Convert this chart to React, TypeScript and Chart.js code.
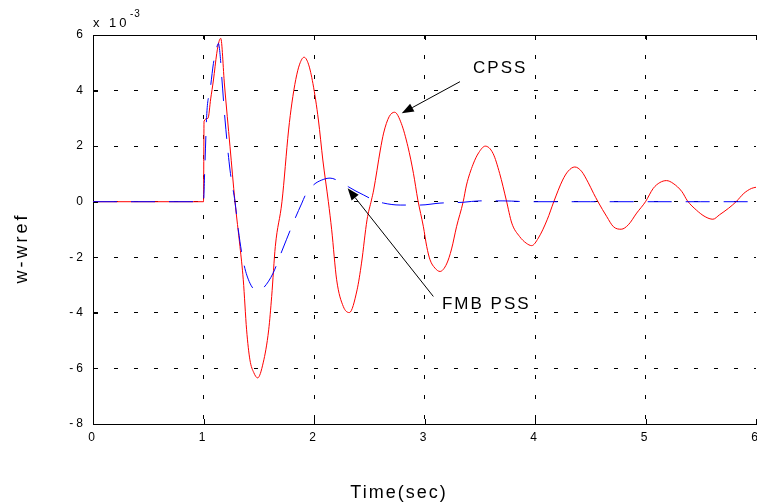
import React, { useEffect, useRef } from "react";
import { Chart, registerables } from "chart.js";

Chart.register(...registerables);

// ---------------- data ----------------
const cpssTime = [
  0, 1.0, 1.005, 1.04, 1.065, 1.09, 1.12, 1.14, 1.156, 1.19, 1.24, 1.285, 1.33, 1.36, 1.39, 1.42, 1.455,
  1.49, 1.54, 1.59, 1.617, 1.65, 1.71, 1.77, 1.8, 1.835, 1.87, 1.91, 1.95, 1.99, 2.04, 2.08, 2.13, 2.16, 2.205,
  2.265, 2.32, 2.39, 2.43, 2.48, 2.52, 2.54, 2.6, 2.63, 2.68, 2.73, 2.79, 2.85, 2.9, 2.94, 2.99,
  3.02, 3.05, 3.095, 3.14, 3.2, 3.245, 3.29, 3.35, 3.38, 3.44, 3.49, 3.55, 3.62, 3.68, 3.74, 3.79,
  3.86, 3.92, 3.97, 4.03, 4.11, 4.17, 4.25, 4.3, 4.36, 4.42, 4.48, 4.53, 4.57, 4.65, 4.71, 4.78,
  4.845, 4.92, 5.0, 5.07, 5.13, 5.19, 5.25, 5.33, 5.38, 5.46, 5.54, 5.61, 5.67, 5.75, 5.82, 5.89,
  5.96, 6.0,
];
const cpssValue = [
  0, 0, 2.9, 3.0, 3.7, 4.38, 5.34, 5.76, 5.88, 4.2, 1.98, 0, -1.61, -2.81, -4.61, -5.69, -6.15,
  -6.34, -5.8, -4.61, -3.41, -1.61, 0, 2.58, 3.55, 4.4, 4.95, 5.2, 4.95, 4.26, 2.94, 1.5, 0, -1.01, -2.81,
  -3.77, -3.99, -3.17, -2.21, -0.65, 0.06, 0.42, 1.86, 2.47, 3.06, 3.22, 2.82, 1.98, 1.02, 0.06, -0.9,
  -1.61, -2.09, -2.39, -2.51, -2.24, -1.7, -0.9, 0, 0.6, 1.35, 1.76, 2.0, 1.74, 1.02, 0.06, -0.77,
  -1.25, -1.49, -1.58, -1.31, -0.65, 0, 0.78, 1.1, 1.25, 1.1, 0.7, 0.3, 0, -0.54, -0.9, -0.99,
  -0.83, -0.41, 0, 0.48, 0.69, 0.76, 0.66, 0.36, 0.03, -0.3, -0.54, -0.63, -0.47, -0.24, 0, 0.3,
  0.48, 0.52,
];

const fmbTime = [
  0, 1.0, 1.01, 1.03, 1.06, 1.09, 1.12, 1.135, 1.15, 1.165, 1.195, 1.24, 1.285, 1.315, 1.36, 1.42,
  1.487, 1.54, 1.63, 1.69, 1.75, 1.83, 1.89, 1.93, 2.0, 2.07, 2.145, 2.235, 2.31, 2.38, 2.45, 2.54,
  2.63, 2.78, 2.96, 3.14, 3.35, 3.5, 3.71, 3.95, 4.5, 5.0, 5.5, 6.0,
];
const fmbValue = [
  0, 0, 1.0, 3.18, 4.02, 4.98, 5.55, 5.7, 5.3, 4.5, 2.94, 1.14, 0, -1.01, -2.15, -2.93,
  -3.21, -3.11, -2.57, -1.97, -1.37, -0.59, -0.05, 0.3, 0.62, 0.78, 0.85, 0.72, 0.54, 0.38, 0.24, 0.06,
  -0.05, -0.12, -0.12, -0.05, -0.02, 0.03, 0.03, 0, 0, 0, 0, 0,
];

const xTickValues = [0, 1, 2, 3, 4, 5, 6];
const yTickValues = [-8, -6, -4, -2, 0, 2, 4, 6];
const xTitle = "Time(sec)";
const yTitle = "w-wref";
const exponentBase = "x 10";
const exponentPower = "-3";

const cpssLabel = "CPSS";
const cpssTextAt = [3.439, 4.62];
const cpssArrowTail = [3.321, 4.32];
const cpssArrowHead = [2.794, 3.18];

const fmbLabel = "FMB PSS";
const fmbTextAt = [3.158, -3.87];
const fmbArrowTail = [3.08, -3.41];
const fmbArrowHead = [2.305, 0.486];

// ---------------- styling ----------------
const FONT = '"Liberation Sans", Arial, Helvetica, sans-serif';

function setSpacing(ctx: any, v: string) {
  try {
    ctx.letterSpacing = v;
  } catch (e) {
    /* ignore */
  }
}

function drawArrow(ctx: CanvasRenderingContext2D, x1: number, y1: number, x2: number, y2: number) {
  ctx.save();
  ctx.strokeStyle = "#000";
  ctx.fillStyle = "#000";
  ctx.lineWidth = 1;
  const ang = Math.atan2(y2 - y1, x2 - x1);
  const len = 12;
  const half = 4.5;
  const bx = x2 - len * Math.cos(ang);
  const by = y2 - len * Math.sin(ang);
  ctx.beginPath();
  ctx.moveTo(x1, y1);
  ctx.lineTo(bx, by);
  ctx.stroke();
  ctx.beginPath();
  ctx.moveTo(x2, y2);
  ctx.lineTo(bx + half * Math.sin(ang), by - half * Math.cos(ang));
  ctx.lineTo(bx - half * Math.sin(ang), by + half * Math.cos(ang));
  ctx.closePath();
  ctx.fill();
  ctx.restore();
}

const decorPlugin = {
  id: "decor",
  beforeDraw(chart: any) {
    const ctx = chart.ctx;
    ctx.save();
    ctx.fillStyle = "#fff";
    ctx.fillRect(0, 0, chart.width, chart.height);
    ctx.restore();
    setSpacing(ctx, "3px");
  },
  afterDatasetsDraw(chart: any) {
    const ctx = chart.ctx as CanvasRenderingContext2D;
    const xs = chart.scales.x;
    const ys = chart.scales.y;
    const px = (p: number[]) => [xs.getPixelForValue(p[0]), ys.getPixelForValue(p[1])];
    setSpacing(ctx, "0px");
    const a1 = px(cpssArrowTail);
    const b1 = px(cpssArrowHead);
    drawArrow(ctx, a1[0], a1[1], b1[0], b1[1]);
    const a2 = px(fmbArrowTail);
    const b2 = px(fmbArrowHead);
    drawArrow(ctx, a2[0], a2[1], b2[0], b2[1]);

    ctx.save();
    ctx.fillStyle = "#000";
    ctx.font = `17px ${FONT}`;
    ctx.textAlign = "left";
    ctx.textBaseline = "alphabetic";
    setSpacing(ctx, "2px");
    const t1 = px(cpssTextAt);
    ctx.fillText(cpssLabel, t1[0], t1[1]);
    const t2 = px(fmbTextAt);
    ctx.fillText(fmbLabel, t2[0], t2[1]);
    ctx.restore();
  },
  afterDraw(chart: any) {
    const ctx = chart.ctx as CanvasRenderingContext2D;
    const area = chart.chartArea;
    const xs = chart.scales.x;
    const ys = chart.scales.y;
    ctx.save();
    setSpacing(ctx, "0px");
    ctx.strokeStyle = "#000";
    ctx.lineWidth = 1;
    // top frame line
    ctx.beginPath();
    ctx.moveTo(area.left, Math.round(area.top) + 0.5);
    ctx.lineTo(chart.width, Math.round(area.top) + 0.5);
    ctx.stroke();
    // inner tick marks
    ctx.beginPath();
    yTickValues.forEach((v) => {
      const y = Math.round(ys.getPixelForValue(v)) + 0.5;
      ctx.moveTo(area.left, y);
      ctx.lineTo(area.left + 5, y);
    });
    xTickValues.forEach((v) => {
      const x = Math.round(xs.getPixelForValue(v)) + 0.5;
      ctx.moveTo(x, area.bottom);
      ctx.lineTo(x, area.bottom - 5);
      ctx.moveTo(x, area.top);
      ctx.lineTo(x, area.top + 5);
    });
    ctx.stroke();

    ctx.fillStyle = "#000";
    // exponent note
    ctx.textAlign = "left";
    ctx.textBaseline = "alphabetic";
    ctx.font = `13px ${FONT}`;
    setSpacing(ctx, "3px");
    ctx.fillText(exponentBase, area.left, 27);
    ctx.font = `10px ${FONT}`;
    setSpacing(ctx, "1px");
    ctx.fillText(exponentPower, 130, 16.5);

    // x title
    ctx.font = `18px ${FONT}`;
    setSpacing(ctx, "2px");
    ctx.textAlign = "center";
    ctx.fillText(xTitle, 399, 497.5);

    // y title
    ctx.save();
    ctx.translate(27, 248);
    ctx.rotate(-Math.PI / 2);
    setSpacing(ctx, "3px");
    ctx.fillText(yTitle, 0, 0);
    ctx.restore();

    ctx.restore();
    setSpacing(ctx, "0px");
  },
};

export default function App() {
  const canvasRef = useRef<HTMLCanvasElement | null>(null);

  useEffect(() => {
    const canvas = canvasRef.current;
    if (!canvas) return;
    const cpssData = cpssTime.map((t, i) => ({ x: t, y: cpssValue[i] }));
    const fmbData = fmbTime.map((t, i) => ({ x: t, y: fmbValue[i] }));

    const chart = new Chart(canvas, {
      type: "line",
      data: {
        datasets: [
          {
            label: "FMB PSS",
            data: fmbData,
            borderColor: "#0000ff",
            borderWidth: 1,
            borderDash: [24, 14],
            pointRadius: 0,
            fill: false,
            cubicInterpolationMode: "monotone",
          },
          {
            label: "CPSS",
            data: cpssData,
            borderColor: "#ff0000",
            borderWidth: 1,
            pointRadius: 0,
            fill: false,
            cubicInterpolationMode: "monotone",
          },
        ],
      },
      options: {
        responsive: false,
        animation: false,
        devicePixelRatio: 1,
        layout: { padding: { left: 0, top: 35, right: 1, bottom: 0 } },
        plugins: {
          legend: { display: false },
          tooltip: { enabled: false },
          title: { display: false },
        },
        scales: {
          x: {
            type: "linear",
            min: 0,
            max: 6,
            afterBuildTicks: (scale: any) => {
              scale.ticks = xTickValues.map((v) => ({ value: v }));
            },
            afterFit: (scale: any) => {
              scale.height = 80;
              scale.paddingLeft = 0;
              scale.paddingRight = 0;
            },
            ticks: {
              color: "#000",
              font: { family: FONT, size: 12 },
              padding: 6,
              maxRotation: 0,
              autoSkip: false,
              callback: (v: any) => String(v),
            },
            grid: {
              drawTicks: false,
              color: (c: any) =>
                c.tick && (c.tick.value === 0 || c.tick.value === 6) ? "rgba(0,0,0,0)" : "#000",
              lineWidth: 1,
            },
            border: { display: true, color: "#000", width: 1, dash: [4, 16] },
          },
          y: {
            type: "linear",
            min: -8,
            max: 6,
            afterBuildTicks: (scale: any) => {
              scale.ticks = yTickValues.map((v) => ({ value: v }));
            },
            afterFit: (scale: any) => {
              scale.width = 93;
              scale.paddingTop = 0;
              scale.paddingBottom = 0;
            },
            ticks: {
              color: "#000",
              font: { family: FONT, size: 12 },
              padding: 7,
              autoSkip: false,
              callback: (v: any) => String(v),
            },
            grid: {
              drawTicks: false,
              color: (c: any) =>
                c.tick && (c.tick.value === -8 || c.tick.value === 6) ? "rgba(0,0,0,0)" : "#000",
              lineWidth: 1,
            },
            border: { display: true, color: "#000", width: 1, dash: [4, 16] },
          },
        },
      },
      plugins: [decorPlugin],
    });

    return () => chart.destroy();
  }, []);

  return (
    <div style={{ position: "fixed", left: 0, top: 0, width: 757, height: 504, background: "#fff" }}>
      <canvas ref={canvasRef} width={757} height={504} style={{ display: "block" }} />
    </div>
  );
}
